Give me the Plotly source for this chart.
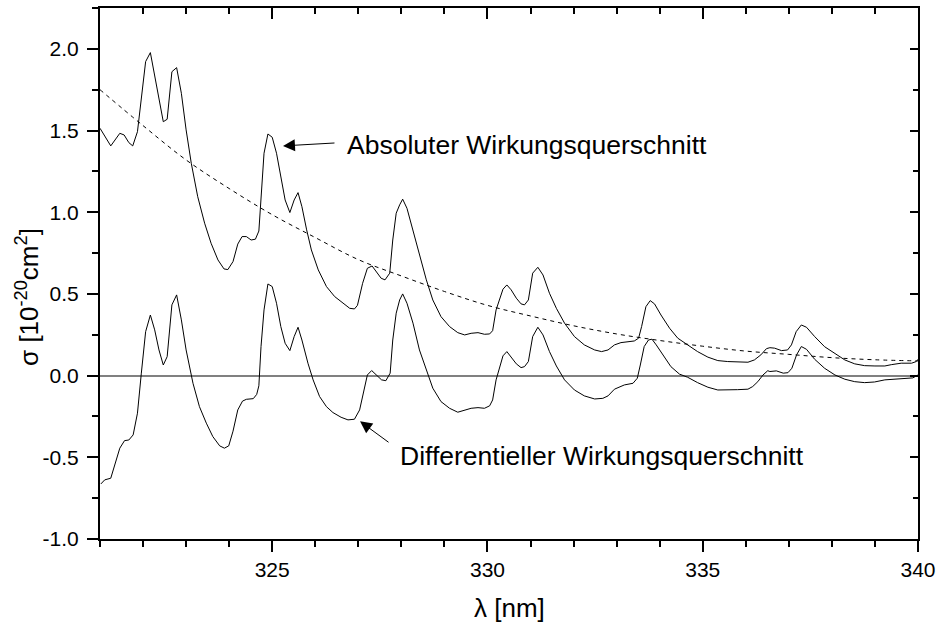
import plotly.graph_objects as go

# Wavelength grid and cross sections, sigma in 1e-20 cm^2
abs_wl = [321.00, 321.25, 321.46, 321.56, 321.67, 321.76, 321.87, 321.96, 322.06, 322.17,
          322.27, 322.37, 322.47, 322.56, 322.67, 322.78, 322.89, 323.00, 323.12, 323.27,
          323.43, 323.58, 323.74, 323.88, 323.97, 324.09, 324.20, 324.30, 324.40, 324.51,
          324.61, 324.69, 324.74, 324.81, 324.90, 325.00, 325.10, 325.20, 325.30, 325.41,
          325.51, 325.60, 325.69, 325.80, 325.91, 326.07, 326.26, 326.45, 326.64, 326.80,
          326.91, 326.98, 327.10, 327.21, 327.32, 327.42, 327.53, 327.62, 327.73, 327.80,
          327.88, 327.96, 328.03, 328.13, 328.27, 328.42, 328.58, 328.73, 328.92, 329.12,
          329.31, 329.47, 329.62, 329.78, 329.93, 330.05, 330.12, 330.20, 330.36, 330.45,
          330.55, 330.67, 330.78, 330.86, 330.95, 331.05, 331.17, 331.29, 331.44, 331.60,
          331.79, 332.02, 332.25, 332.49, 332.65, 332.80, 332.95, 333.10, 333.25, 333.41,
          333.51, 333.58, 333.68, 333.78, 333.88, 334.03, 334.23, 334.42, 334.65, 334.88,
          335.12, 335.35, 335.58, 335.81, 336.05, 336.20, 336.35, 336.48, 336.56, 336.67,
          336.83, 336.97, 337.06, 337.17, 337.29, 337.41, 337.60, 337.83, 338.07, 338.30,
          338.53, 338.76, 339.00, 339.23, 339.38, 339.61, 339.85, 339.96, 340.00]
abs_sigma = [1.514, 1.406, 1.483, 1.473, 1.426, 1.406, 1.493, 1.708, 1.922, 1.977,
             1.840, 1.687, 1.554, 1.569, 1.860, 1.885, 1.728, 1.504, 1.300, 1.095,
             0.933, 0.810, 0.708, 0.653, 0.649, 0.698, 0.805, 0.851, 0.851, 0.830,
             0.835, 0.885, 1.116, 1.361, 1.479, 1.459, 1.361, 1.218, 1.075, 0.998,
             1.075, 1.120, 1.034, 0.892, 0.769, 0.647, 0.545, 0.484, 0.443, 0.412,
             0.408, 0.430, 0.565, 0.657, 0.671, 0.637, 0.596, 0.586, 0.627, 0.830,
             0.994, 1.045, 1.080, 1.024, 0.892, 0.739, 0.586, 0.463, 0.361, 0.300,
             0.263, 0.249, 0.259, 0.263, 0.253, 0.255, 0.275, 0.402, 0.529, 0.555,
             0.525, 0.474, 0.439, 0.433, 0.463, 0.627, 0.663, 0.616, 0.504, 0.412,
             0.321, 0.239, 0.188, 0.157, 0.147, 0.157, 0.188, 0.202, 0.208, 0.212,
             0.229, 0.300, 0.422, 0.459, 0.439, 0.371, 0.290, 0.229, 0.188, 0.147,
             0.113, 0.092, 0.086, 0.084, 0.082, 0.096, 0.127, 0.165, 0.171, 0.168,
             0.153, 0.157, 0.188, 0.269, 0.310, 0.296, 0.239, 0.177, 0.133, 0.096,
             0.072, 0.061, 0.059, 0.059, 0.067, 0.076, 0.076, 0.086, 0.100]

diff_wl = [321.02, 321.11, 321.25, 321.36, 321.46, 321.57, 321.67, 321.77, 321.87, 321.96,
           322.06, 322.17, 322.27, 322.37, 322.47, 322.56, 322.67, 322.78, 322.89, 323.00,
           323.16, 323.31, 323.47, 323.62, 323.78, 323.89, 323.99, 324.09, 324.20, 324.31,
           324.40, 324.56, 324.64, 324.69, 324.74, 324.81, 324.90, 325.00, 325.10, 325.20,
           325.30, 325.41, 325.51, 325.60, 325.69, 325.83, 325.95, 326.10, 326.26, 326.41,
           326.60, 326.76, 326.91, 327.03, 327.11, 327.21, 327.31, 327.42, 327.54, 327.64,
           327.74, 327.80, 327.88, 327.96, 328.03, 328.13, 328.27, 328.42, 328.58, 328.73,
           328.92, 329.12, 329.31, 329.47, 329.62, 329.78, 329.93, 330.05, 330.12, 330.20,
           330.36, 330.45, 330.55, 330.67, 330.78, 330.86, 330.95, 331.05, 331.17, 331.29,
           331.44, 331.60, 331.79, 332.02, 332.25, 332.49, 332.68, 332.80, 332.95, 333.03,
           333.18, 333.38, 333.48, 333.55, 333.64, 333.74, 333.82, 333.92, 334.07, 334.26,
           334.46, 334.65, 334.88, 335.12, 335.35, 335.58, 335.81, 336.05, 336.16, 336.28,
           336.40, 336.51, 336.56, 336.71, 336.87, 336.98, 337.07, 337.18, 337.29, 337.41,
           337.60, 337.83, 338.07, 338.30, 338.53, 338.76, 338.99, 339.23, 339.46, 339.69,
           339.88, 340.00]
diff_sigma = [-0.663, -0.638, -0.628, -0.536, -0.444, -0.398, -0.394, -0.363, -0.230, 0.015,
              0.269, 0.371, 0.280, 0.157, 0.065, 0.116, 0.433, 0.494, 0.341, 0.157,
              -0.047, -0.190, -0.291, -0.373, -0.430, -0.444, -0.430, -0.340, -0.210, -0.156,
              -0.145, -0.141, -0.115, -0.062, 0.178, 0.402, 0.561, 0.545, 0.443, 0.300,
              0.198, 0.153, 0.239, 0.296, 0.218, 0.076, -0.026, -0.128, -0.190, -0.226,
              -0.255, -0.271, -0.267, -0.210, -0.108, 0.004, 0.031, 0.004, -0.026, -0.031,
              0.015, 0.218, 0.382, 0.463, 0.500, 0.443, 0.321, 0.157, 0.035, -0.077,
              -0.159, -0.200, -0.224, -0.214, -0.200, -0.196, -0.200, -0.185, -0.149, -0.026,
              0.121, 0.147, 0.116, 0.072, 0.049, 0.055, 0.086, 0.239, 0.296, 0.249,
              0.147, 0.059, -0.026, -0.088, -0.124, -0.143, -0.139, -0.124, -0.083, -0.073,
              -0.057, -0.047, -0.016, 0.065, 0.178, 0.218, 0.223, 0.188, 0.127, 0.055,
              0.009, -0.010, -0.043, -0.071, -0.088, -0.088, -0.086, -0.083, -0.067, -0.037,
              0.004, 0.030, 0.025, 0.029, 0.015, 0.018, 0.045, 0.127, 0.178, 0.161,
              0.100, 0.045, 0.004, -0.022, -0.037, -0.043, -0.039, -0.026, -0.022, -0.018,
              -0.014, 0.004]

# Smooth broadband part (dashed)
base_wl = [321, 322, 323, 324, 325, 326, 327, 328, 329, 330,
           331, 332, 333, 334, 335, 336, 337, 338, 339, 340]
base_sigma = [1.75, 1.53, 1.32, 1.145, 0.985, 0.845, 0.71, 0.61, 0.515, 0.43,
              0.365, 0.305, 0.255, 0.215, 0.18, 0.15, 0.13, 0.11, 0.097, 0.09]

# Axis ticks and labels
x_range = [321, 340]
x_ticks = [325, 330, 335, 340]
y_range = [-1.0, 2.25]
y_ticks = [-1.0, -0.5, 0.0, 0.5, 1.0, 1.5, 2.0]
y_ticklabels = ["-1.0", "-0.5", "0.0", "0.5", "1.0", "1.5", "2.0"]

FONT = "Liberation Sans, Arial, sans-serif"
line_black = dict(color="black", width=1)

fig = go.Figure()
fig.add_trace(go.Scatter(x=base_wl, y=base_sigma, mode="lines",
                         line=dict(color="black", width=1, dash="4px,4px", shape="spline"),
                         hoverinfo="skip"))
fig.add_trace(go.Scatter(x=abs_wl, y=abs_sigma, mode="lines", line=line_black))
fig.add_trace(go.Scatter(x=diff_wl, y=diff_sigma, mode="lines", line=line_black))
# carrier for the mirrored top/right axes
fig.add_trace(go.Scatter(x=x_range, y=y_range, mode="none", xaxis="x2", yaxis="y2",
                         hoverinfo="skip", showlegend=False))

axis_common = dict(showline=True, linecolor="black", linewidth=2, showgrid=False,
                   tickcolor="black", tickwidth=1.5, automargin=False)
minor_out = dict(ticks="outside", ticklen=6, tickcolor="black", tickwidth=1.5)
minor_in = dict(ticks="inside", ticklen=6, tickcolor="black", tickwidth=1.5)

fig.update_layout(
    width=938, height=624,
    margin=dict(l=100, r=20, t=8, b=85, autoexpand=False),
    paper_bgcolor="white", plot_bgcolor="white",
    showlegend=False,
    font=dict(family=FONT, size=21, color="black"),
    xaxis=dict(range=x_range, ticks="outside", ticklen=11, tickvals=x_ticks,
               minor=dict(dtick=1, **minor_out),
               zeroline=False, tickfont=dict(size=21), **axis_common),
    yaxis=dict(range=y_range, ticks="outside", ticklen=11,
               tickvals=y_ticks, ticktext=y_ticklabels, ticklabelstandoff=4,
               minor=dict(dtick=0.25, **minor_out),
               zeroline=True, zerolinecolor="#808080", zerolinewidth=1.5,
               tickfont=dict(size=21), **axis_common),
    xaxis2=dict(range=x_range, overlaying="x", side="top", ticks="inside", ticklen=11,
                tickvals=x_ticks, showticklabels=False,
                minor=dict(dtick=1, **minor_in),
                zeroline=False, **axis_common),
    yaxis2=dict(range=y_range, overlaying="y", side="right", ticks="inside", ticklen=8,
                tickvals=y_ticks, showticklabels=False,
                minor=dict(dtick=0.25, ticks="inside", ticklen=5, tickcolor="black", tickwidth=1.5),
                zeroline=False, **axis_common),
)

annotations = [
    dict(text="σ [10<sup>-20</sup>cm<sup>2</sup>]", xref="paper", yref="paper",
         x=-0.088, y=0.456, textangle=-90, showarrow=False,
         xanchor="center", yanchor="middle", font=dict(size=26)),
    dict(text="λ [nm]", xref="paper", yref="paper", x=0.5, y=-0.13,
         showarrow=False, xanchor="center", yanchor="middle", font=dict(size=26)),
    dict(text="Absoluter Wirkungsquerschnitt", x=326.69, y=1.412, xref="x", yref="y",
         showarrow=False, xanchor="left", yanchor="middle", font=dict(size=26.5)),
    dict(text="Differentieller Wirkungsquerschnitt", x=327.92, y=-0.491, xref="x", yref="y",
         showarrow=False, xanchor="left", yanchor="middle", font=dict(size=26.5)),
    dict(text="", x=325.25, y=1.406, xref="x", yref="y", ax=53, ay=-3,
         showarrow=True, arrowhead=2, arrowsize=2.4, arrowwidth=1, arrowcolor="black"),
    dict(text="", x=327.04, y=-0.28, xref="x", yref="y", ax=30, ay=22,
         showarrow=True, arrowhead=2, arrowsize=2.4, arrowwidth=1, arrowcolor="black"),
]
fig.update_layout(annotations=annotations)

fig.write_html("out.html")
